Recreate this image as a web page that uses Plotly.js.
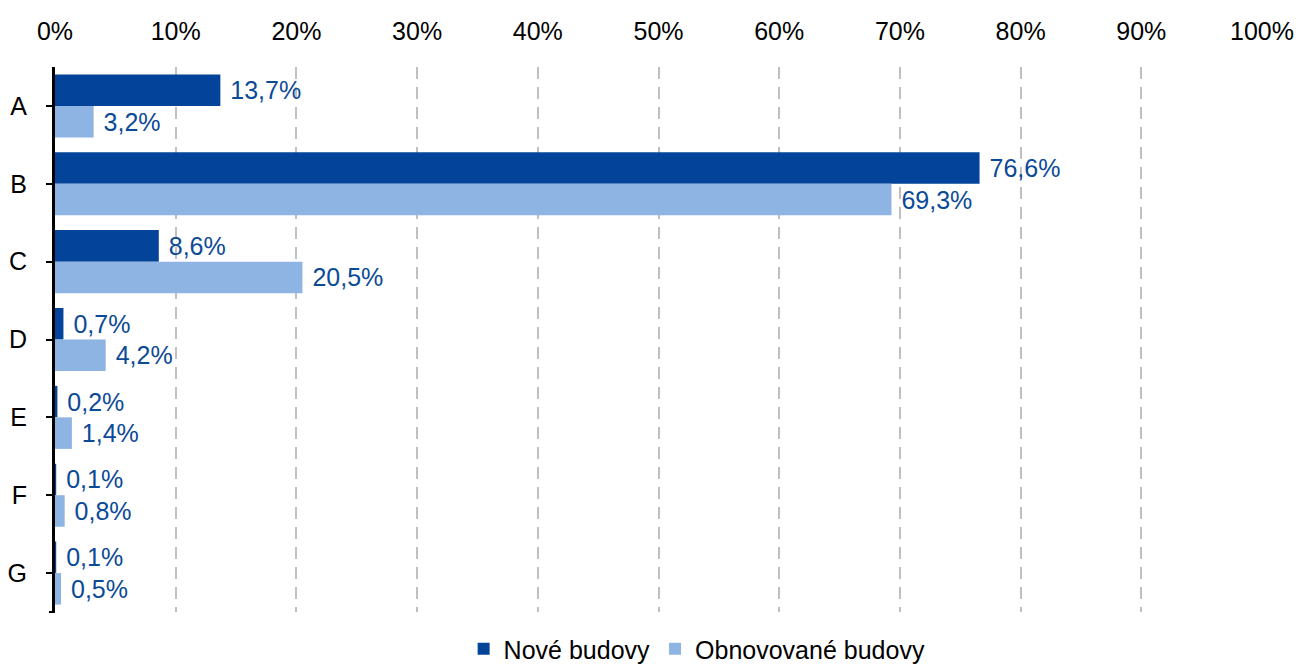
<!DOCTYPE html>
<html>
<head>
<meta charset="utf-8">
<script src="https://cdn.plot.ly/plotly-3.0.1.min.js"></script>
<style>html,body{margin:0;padding:0;background:#fff;}#chart{width:1296px;height:672px;}</style>
</head>
<body>
<div id="chart"></div>
<script>
const categories = ['A', 'B', 'C', 'D', 'E', 'F', 'G'];
const seriesNames = ['Nové budovy', 'Obnovované budovy'];
const noveBudovy = [13.7, 76.6, 8.6, 0.7, 0.2, 0.1, 0.1];
const obnovovaneBudovy = [3.2, 69.3, 20.5, 4.2, 1.4, 0.8, 0.5];
const xTickValues = [0, 10, 20, 30, 40, 50, 60, 70, 80, 90, 100];
const xTickLabels = ['0%', '10%', '20%', '30%', '40%', '50%', '60%', '70%', '80%', '90%', '100%'];

const FONT = '"Liberation Sans Narrow", "Arial Narrow", "Liberation Sans", Arial, sans-serif';
const DARK = '#03449A';
const LIGHT = '#8EB4E3';
const LABEL = '#0B4A96';

function barTrace(name, values, color) {
  return {
    type: 'bar',
    orientation: 'h',
    name: name,
    y: categories,
    x: values,
    marker: {color: color, line: {width: 0}},
    texttemplate: '\u00a0%{x:.1f}%',
    textposition: 'outside',
    textfont: {family: FONT, size: 25, color: LABEL},
    constraintext: 'none',
    cliponaxis: false,
    hoverinfo: 'skip'
  };
}

const data = [
  barTrace(seriesNames[0], noveBudovy, DARK),
  barTrace(seriesNames[1], obnovovaneBudovy, LIGHT)
];

const layout = {
  width: 1296,
  height: 672,
  margin: {l: 55, r: 34, t: 67, b: 60},
  paper_bgcolor: '#fff',
  plot_bgcolor: '#fff',
  separators: ', ',
  barmode: 'group',
  bargap: 0.19,
  bargroupgap: 0,
  font: {family: FONT, size: 25, color: '#000'},
  showlegend: true,
  legend: {
    orientation: 'h',
    xref: 'paper',
    x: 0.532, xanchor: 'center',
    yref: 'container',
    y: -0.025, yanchor: 'bottom',
    font: {family: FONT, size: 25, color: '#000'},
    tracegroupgap: 0
  },
  xaxis: {
    side: 'top',
    range: [0, 100],
    tickvals: xTickValues,
    ticktext: xTickLabels,
    ticks: '',
    ticklabelstandoff: 21,
    showline: false,
    zeroline: false,
    showgrid: true,
    gridcolor: '#C0C0C0',
    gridwidth: 2,
    griddash: '12px,8px',
    tickfont: {family: FONT, size: 25, color: '#000'},
    fixedrange: true
  },
  yaxis: {
    type: 'category',
    autorange: 'reversed',
    showline: true,
    linecolor: '#000',
    linewidth: 3,
    ticks: 'outside',
    ticklen: 6,
    tickwidth: 2,
    tickcolor: '#000',
    ticklabelstandoff: 14,
    showgrid: false,
    zeroline: false,
    tickfont: {family: FONT, size: 25, color: '#000'},
    fixedrange: true
  },
  shapes: [{
    type: 'line', xref: 'paper', yref: 'paper',
    x0: -0.005, x1: 0, y0: 0, y1: 0,
    line: {color: '#000', width: 2}
  }]
};

Plotly.newPlot('chart', data, layout, {displayModeBar: false, staticPlot: true});
</script>
</body>
</html>
